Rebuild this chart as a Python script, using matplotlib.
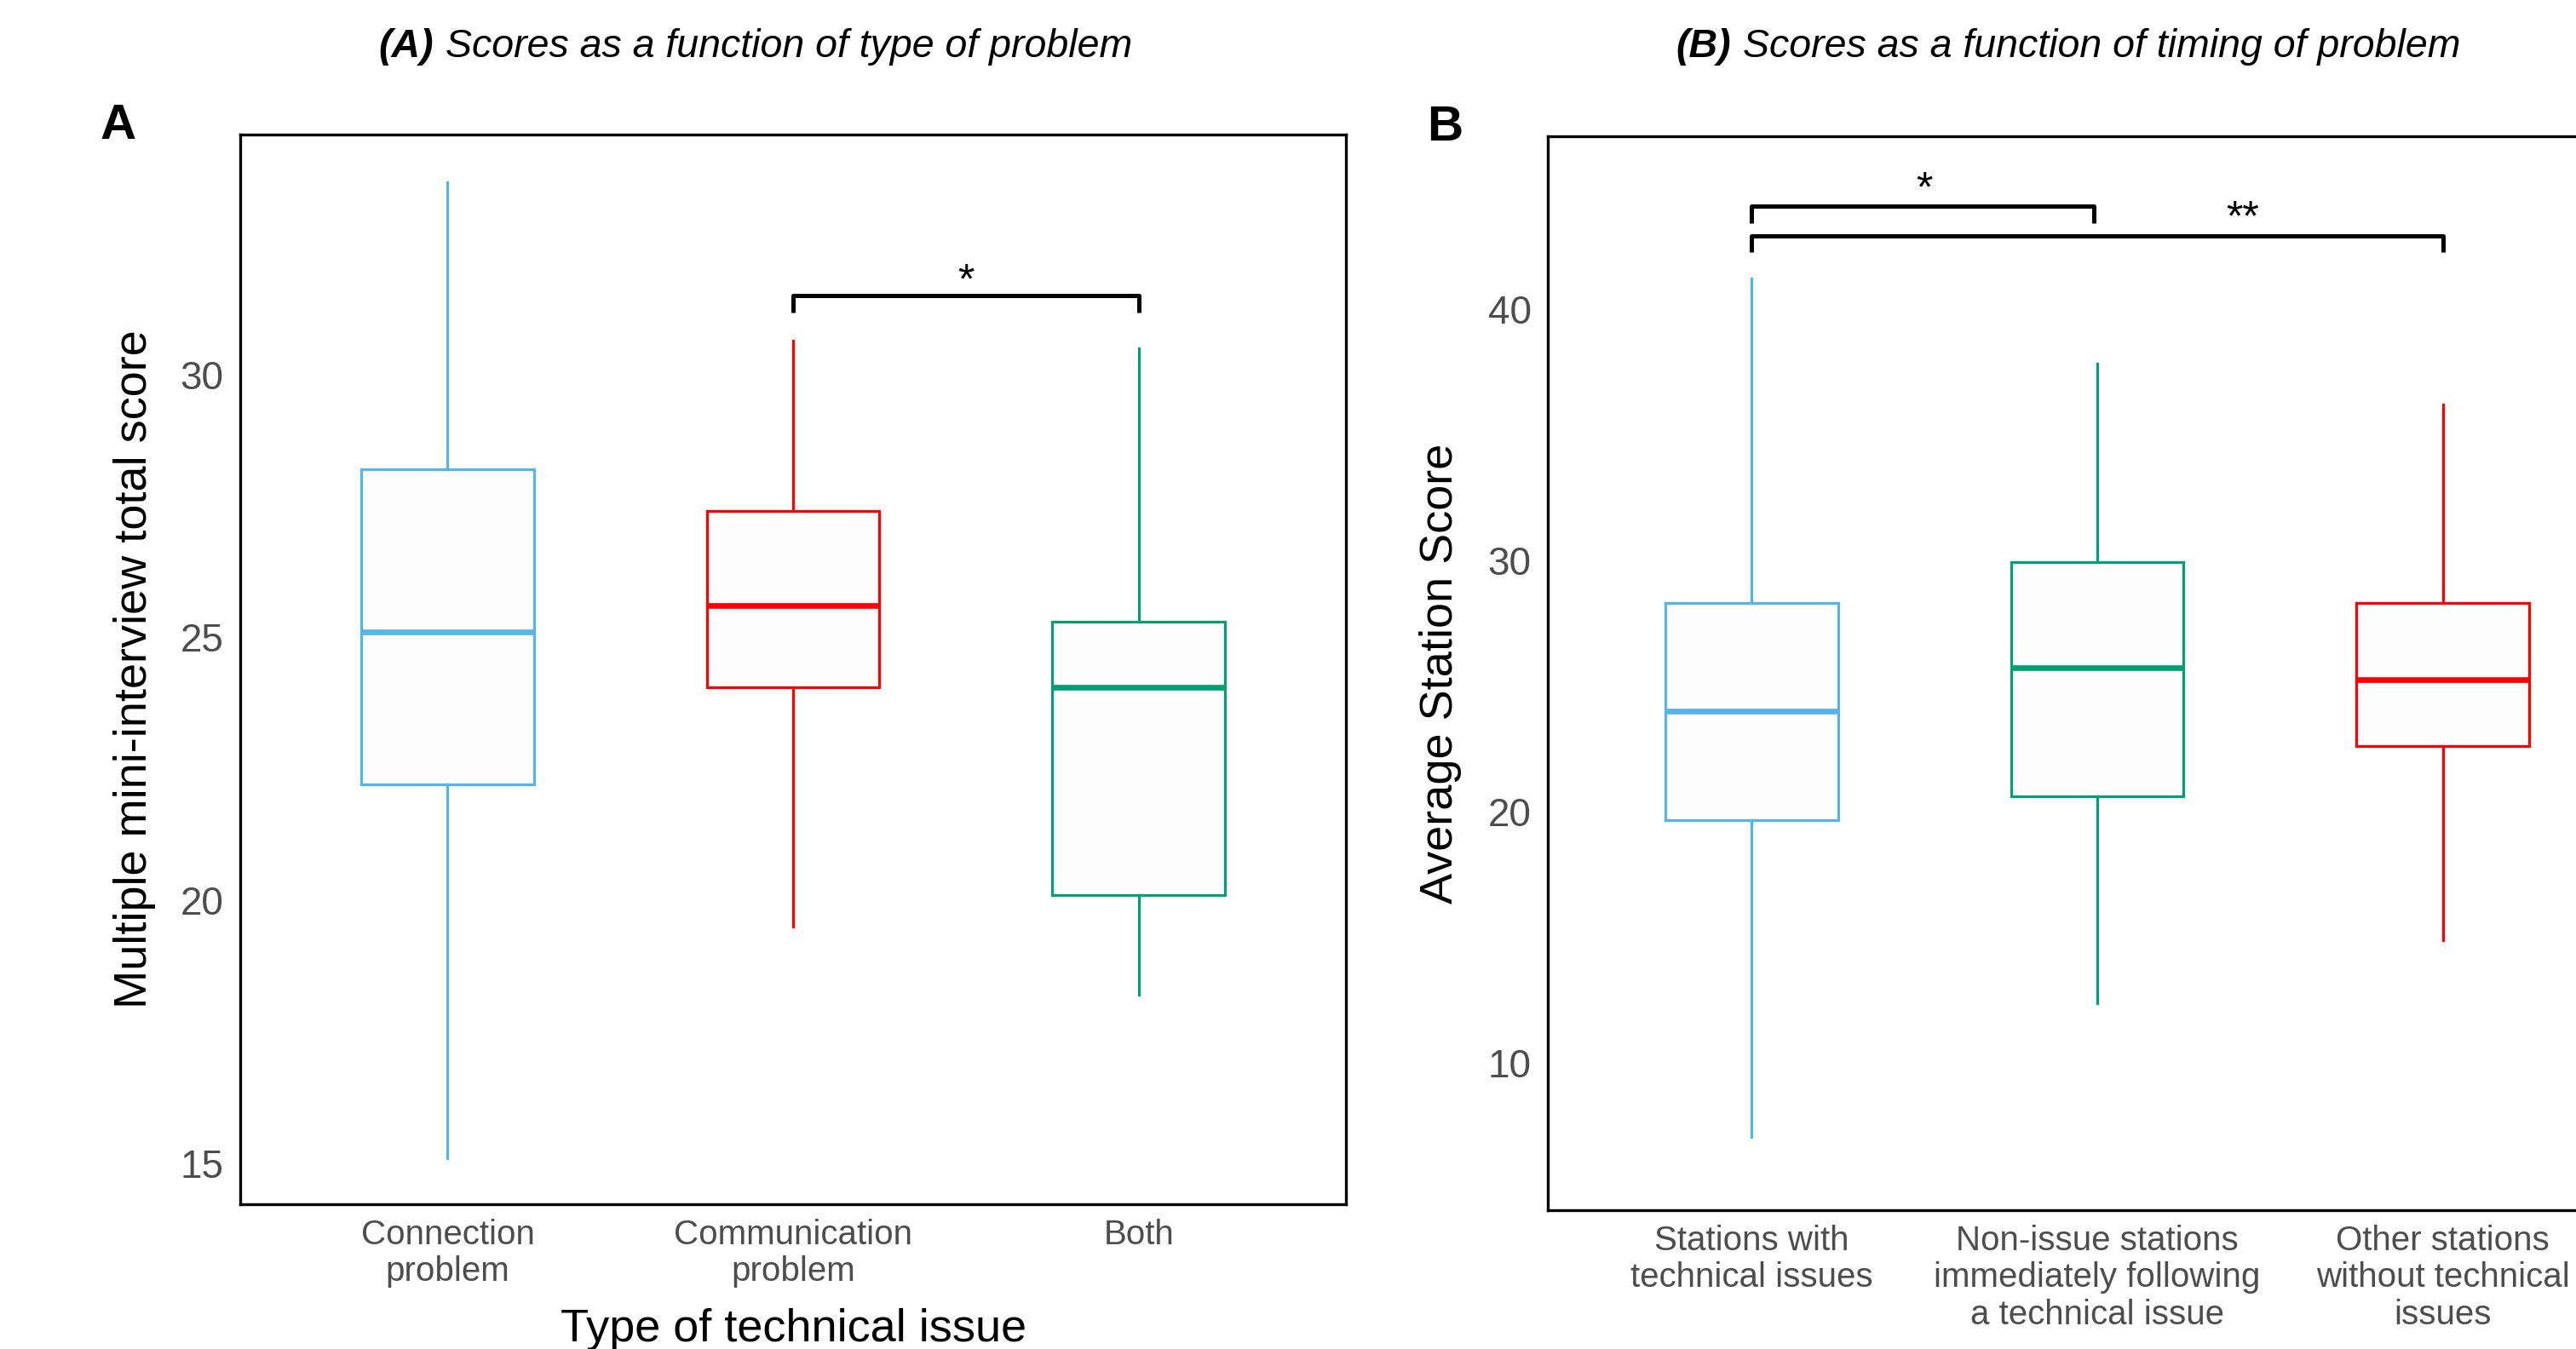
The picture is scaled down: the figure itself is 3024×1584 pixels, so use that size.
import matplotlib.pyplot as plt
from matplotlib.offsetbox import TextArea, HPacker, AnnotationBbox

plt.rcParams['font.family'] = ['Liberation Sans', 'DejaVu Sans']

# (A) scores by type of technical issue
type_labels = ['Connection\nproblem', 'Communication\nproblem', 'Both']
type_whislo = [15.1, 19.5, 18.2]
type_q1 = [22.2, 24.05, 20.1]
type_med = [25.1, 25.6, 24.05]
type_q3 = [28.2, 27.4, 25.3]
type_whishi = [33.65, 30.65, 30.5]
type_colors = ['#56B4E9', '#FF0000', '#009E73']
type_sig = [(2, 3, '*')]

# (B) scores by timing of technical issue
timing_labels = ['Stations with\ntechnical issues',
                 'Non-issue stations\nimmediately following\na technical issue',
                 'Other stations\nwithout technical\nissues']
timing_whislo = [7.05, 12.35, 14.85]
timing_q1 = [19.65, 20.6, 22.6]
timing_med = [24.0, 25.7, 25.25]
timing_q3 = [28.3, 29.9, 28.3]
timing_whishi = [41.2, 37.8, 36.2]
timing_colors = ['#56B4E9', '#009E73', '#FF0000']

GREY = '#4D4D4D'


def make_stats(lo, q1, med, q3, hi):
    return [dict(whislo=a, q1=b, med=c, q3=d, whishi=e, fliers=[])
            for a, b, c, d, e in zip(lo, q1, med, q3, hi)]


def draw_boxes(ax, stats, colors):
    pos = list(range(1, len(stats) + 1))
    bp = ax.bxp(stats, positions=pos, widths=0.5, patch_artist=True,
                showcaps=False, showfliers=False)
    for i, c in enumerate(colors):
        bp['boxes'][i].set(facecolor='#FCFCFC', edgecolor=c, linewidth=2.3)
        bp['medians'][i].set(color=c, linewidth=4.8)
        bp['whiskers'][2 * i].set(color=c, linewidth=2.3)
        bp['whiskers'][2 * i + 1].set(color=c, linewidth=2.3)


def bracket(ax, x1, x2, y, drop, label, lx, ly):
    ax.plot([x1, x1, x2, x2], [y - drop, y, y, y - drop], color='black',
            lw=3.6, solid_joinstyle='round', solid_capstyle='butt', clip_on=False)
    ax.text(lx, ly, label, ha='center', va='center', fontsize=36)


def style_axes(ax):
    for s in ax.spines.values():
        s.set_linewidth(2.4)
        s.set_color('black')
    ax.tick_params(axis='both', length=0, colors=GREY, labelsize=33)
    ax.tick_params(axis='y', pad=14)
    ax.tick_params(axis='x', pad=12.5, labelsize=29)
    for t in ax.get_xticklabels():
        t.set_linespacing(1.17)


def subtitle(fig, x, y, tag, rest):
    box = HPacker(children=[
        TextArea(tag, textprops=dict(fontsize=33.5, style='italic', weight='bold')),
        TextArea(rest, textprops=dict(fontsize=33.5, style='italic'))],
        pad=0, sep=10, align='baseline')
    ab = AnnotationBbox(box, (x, y), xycoords='figure fraction', frameon=False,
                        box_alignment=(0.5, 0.5))
    fig.add_artist(ab)


fig = plt.figure(figsize=(30.24, 15.84), dpi=100)

# panel A
axA = fig.add_axes([0.0933, 0.1073, 0.4292, 0.7929])
draw_boxes(axA, make_stats(type_whislo, type_q1, type_med, type_q3, type_whishi), type_colors)
axA.set_xlim(0.4, 3.6)
axA.set_ylim(14.22, 34.56)
axA.set_yticks([15, 20, 25, 30])
axA.set_xticks([1, 2, 3])
axA.set_xticklabels(type_labels)
style_axes(axA)
axA.set_ylabel('Multiple mini-interview total score', fontsize=39, va='center')
axA.yaxis.set_label_coords(-0.0955, 0.5)
axA.set_xlabel('Type of technical issue', fontsize=39, va='center')
axA.xaxis.set_label_coords(0.5, -0.117)
for a, b, lab in type_sig:
    bracket(axA, a, b, 31.5, 0.32, lab, (a + b) / 2, 31.76)

# panel B
axB = fig.add_axes([0.6009, 0.1029, 0.4292, 0.796])
draw_boxes(axB, make_stats(timing_whislo, timing_q1, timing_med, timing_q3, timing_whishi), timing_colors)
axB.set_xlim(0.41, 3.61)
axB.set_ylim(4.12, 46.86)
axB.set_yticks([10, 20, 30, 40])
axB.set_xticks([1, 2, 3])
axB.set_xticklabels(timing_labels)
style_axes(axB)
axB.set_ylabel('Average Station Score', fontsize=39, va='center')
axB.yaxis.set_label_coords(-0.097, 0.5)
bracket(axB, 1, 1.99, 44.08, 0.67, '*', 1.50, 44.72)
bracket(axB, 1, 3, 42.9, 0.64, '**', 2.42, 43.58)

# panel letters and subtitles
fig.text(0.046, 0.9066, 'A', fontsize=42, weight='bold', ha='center', va='center')
fig.text(0.561, 0.905, 'B', fontsize=42, weight='bold', ha='center', va='center')
subtitle(fig, 0.2933, 0.9655, '(A)', 'Scores as a function of type of problem')
subtitle(fig, 0.803, 0.9655, '(B)', 'Scores as a function of timing of problem')

fig.savefig('out.png', dpi=100)
